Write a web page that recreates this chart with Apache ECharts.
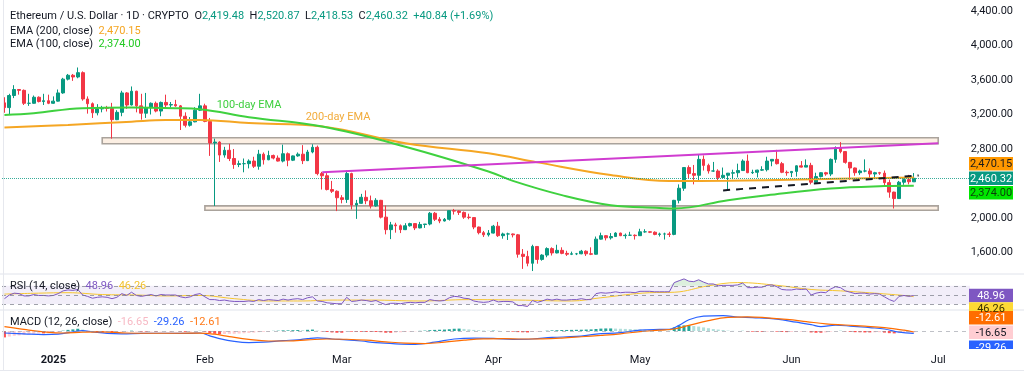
<!DOCTYPE html>
<html><head><meta charset="utf-8">
<script src="https://cdn.jsdelivr.net/npm/echarts@6/dist/echarts.min.js"></script>
<style>html,body{margin:0;padding:0;background:#fff}#c{width:1024px;height:373px}</style>
</head><body><div id="c"></div>
<script>
// ---------- DATA ----------
const startDate = '2024-12-22';
const dayCount = 198; // category slots up to 2025-07-07
const opens = [3335,3280,3420,3490,3480,3330,3330,3400,3350,3360,3330,3355,3450,3610,3655,3635,3685,3380,3325,3220,3265,3280,3270,3140,3225,3450,3310,3470,3300,3215,3280,3330,3240,3340,3310,3315,3300,3180,3075,3115,3250,3300,3120,2870,2880,2730,2785,2690,2620,2630,2630,2660,2600,2740,2675,2725,2695,2660,2745,2670,2720,2740,2665,2765,2820,2515,2490,2330,2310,2235,2215,2515,2150,2170,2240,2200,2140,2205,2010,1865,1920,1910,1865,1910,1935,1885,1925,1930,2055,1985,1965,1985,2085,2080,2065,2010,2005,1895,1830,1805,1825,1905,1795,1815,1815,1805,1580,1555,1475,1670,1520,1570,1645,1595,1625,1590,1580,1585,1585,1615,1585,1580,1755,1795,1770,1785,1825,1795,1800,1800,1795,1840,1840,1835,1810,1815,1815,1810,2205,2345,2585,2515,2495,2680,2610,2545,2545,2470,2495,2520,2525,2550,2660,2525,2530,2555,2560,2660,2680,2630,2530,2525,2540,2605,2590,2610,2415,2480,2525,2510,2680,2815,2770,2645,2580,2525,2545,2545,2510,2525,2520,2410,2300,2225,2415,2445,2419.48];
const highs = [3400,3440,3540,3495,3490,3440,3420,3410,3440,3430,3410,3490,3625,3670,3670,3745,3700,3410,3340,3320,3300,3300,3335,3250,3475,3460,3525,3475,3440,3450,3340,3350,3350,3430,3345,3370,3310,3225,3170,3285,3440,3325,3160,2920,2890,2825,2860,2800,2665,2690,2680,2710,2790,2760,2780,2735,2725,2850,2760,2725,2760,2845,2790,2855,2840,2535,2520,2430,2320,2265,2550,2525,2210,2280,2320,2260,2230,2210,2145,1955,1945,1925,1940,1945,1940,1955,1930,2070,2070,2010,2000,2085,2105,2090,2075,2050,2010,1900,1850,1860,1920,1955,1830,1830,1820,1815,1640,1620,1690,1670,1580,1660,1660,1690,1660,1620,1610,1595,1630,1625,1660,1785,1830,1800,1825,1835,1830,1820,1840,1810,1875,1870,1845,1845,1830,1830,1840,2210,2390,2590,2610,2615,2740,2725,2630,2650,2565,2585,2500,2560,2630,2680,2735,2560,2560,2600,2710,2680,2790,2650,2550,2545,2610,2660,2680,2640,2525,2530,2535,2690,2830,2880,2775,2650,2585,2560,2680,2575,2535,2535,2550,2445,2305,2430,2470,2500,2520.87];
const lows = [3220,3200,3390,3430,3310,3300,3325,3340,3310,3320,3325,3350,3440,3595,3590,3620,3360,3210,3160,3190,3225,3235,2920,3135,3180,3265,3305,3225,3140,3160,3200,3225,3180,3280,3280,3290,3020,3050,3060,3110,3240,3110,2720,2140,2650,2700,2660,2570,2590,2530,2575,2580,2560,2620,2670,2680,2655,2645,2600,2660,2710,2625,2660,2750,2495,2330,2320,2290,2080,2170,2175,2100,1990,2165,2160,2110,2130,1995,1810,1755,1830,1825,1860,1900,1860,1880,1885,1915,1965,1940,1960,1970,2040,2035,1990,1985,1870,1810,1780,1785,1820,1780,1760,1745,1775,1540,1410,1440,1385,1470,1505,1545,1565,1590,1580,1560,1570,1570,1580,1560,1570,1575,1750,1740,1750,1780,1790,1760,1795,1750,1795,1830,1825,1800,1785,1750,1780,1800,2170,2315,2460,2390,2420,2550,2515,2535,2440,2460,2330,2450,2470,2545,2520,2510,2470,2545,2540,2600,2620,2520,2490,2475,2480,2585,2590,2390,2410,2470,2490,2485,2640,2750,2630,2440,2490,2500,2530,2460,2460,2500,2380,2235,2110,2225,2385,2390,2418.53];
const closes = [3280,3420,3490,3480,3330,3330,3400,3350,3360,3330,3355,3450,3610,3655,3635,3685,3380,3325,3220,3265,3280,3270,3140,3225,3450,3310,3470,3300,3215,3280,3330,3240,3340,3310,3315,3300,3180,3075,3115,3250,3300,3120,2870,2880,2730,2785,2690,2620,2630,2630,2660,2600,2740,2675,2725,2695,2660,2745,2670,2720,2740,2665,2765,2820,2515,2490,2330,2310,2235,2215,2515,2150,2170,2240,2200,2140,2205,2010,1865,1920,1910,1865,1910,1935,1885,1925,1930,2055,1985,1965,1985,2085,2080,2065,2010,2005,1895,1830,1805,1825,1905,1795,1815,1815,1805,1580,1555,1475,1670,1520,1570,1645,1595,1625,1590,1580,1585,1585,1615,1585,1580,1755,1795,1770,1785,1825,1795,1800,1800,1795,1840,1840,1835,1810,1815,1815,1810,2205,2345,2585,2515,2495,2680,2610,2545,2545,2470,2495,2520,2525,2550,2660,2525,2530,2555,2560,2660,2680,2630,2530,2525,2540,2605,2590,2610,2415,2480,2525,2510,2680,2815,2770,2645,2580,2525,2545,2545,2510,2525,2520,2410,2300,2225,2415,2445,2420,2460.32];
// EMA lines read at sample days: [dayIndex, value]
const ema200 = [[0,3048],[13,3079],[26,3117],[33,3135],[40,3137],[50,3100],[65,3060],[82,2866],[99,2750],[109,2645],[124,2498],[136,2428],[148,2432],[163,2447],[186,2470.15]];
const ema100 = [[0,3195],[6,3215],[16,3273],[26,3280],[35,3273],[40,3262],[50,3169],[65,3060],[82,2827],[99,2540],[104,2430],[114,2265],[124,2149],[134,2117],[137,2110],[148,2207],[156,2265],[169,2343],[180,2370],[186,2374]];
// RSI(14) daily
const rsi = [42,50,54,53,48,48,51,49,49,48,49,53,59,61,60,62,50,47,43,45,46,45,42,45,53,49,56,49,47,49,51,48,51,50,50,50,46,44,46,51,53,46,40,40,38,39,37,36,36,36,37,36,40,38,40,39,38,41,39,41,42,40,44,46,37,36,33,32,31,31,45,36,37,39,38,36,38,33,29,32,32,31,33,34,33,34,34,40,38,37,38,44,47,46,43,42,37,35,34,35,39,35,36,36,35,27,27,25,38,34,37,41,39,41,39,39,40,40,42,40,40,53,55,54,55,57,55,56,56,55,58,58,58,57,57,57,57,77,81,85,80,79,83,78,74,74,70,71,71,71,72,76,66,66,67,67,71,72,68,62,61,61,63,62,63,50,54,56,55,63,68,66,59,56,53,54,54,52,53,52,46,40,36,47,49,47,48.96];
const rsiMa = [[0,52],[7,54],[13,55],[20,51],[27,50],[33,48],[40,49],[47,42],[54,37],[61,37],[67,39],[75,39],[85,37],[95,40],[105,39],[116,37],[122,44],[132,55],[137,56],[144,70],[150,77],[158,71],[165,62],[171,59],[178,54],[185,48],[186,46.26]];
// MACD(12,26) line, signal and daily histogram
const macdLine = [[0,-25],[4,-35],[8,-45],[11,-40],[14,-10],[16,5],[18,-10],[21,-30],[24,-35],[28,-30],[33,-28],[38,-30],[40,-25],[42,-60],[44,-95],[47,-130],[50,-145],[53,-140],[57,-120],[60,-110],[62,-95],[64,-85],[67,-100],[70,-110],[73,-125],[76,-146],[80,-160],[84,-166],[88,-140],[92,-100],[96,-88],[100,-92],[104,-104],[108,-100],[112,-80],[117,-68],[121,-40],[126,-20],[130,10],[134,20],[136,22],[138,70],[140,140],[143,185],[147,192],[150,175],[153,168],[158,148],[162,110],[165,80],[167,55],[170,72],[173,62],[177,42],[180,25],[183,-15],[186,-29.26]];
const signalLine = [[0,55],[4,20],[8,-10],[12,-25],[16,-15],[20,-10],[25,-25],[30,-28],[36,-28],[40,-26],[43,-40],[46,-70],[50,-105],[54,-125],[58,-125],[62,-112],[66,-100],[70,-103],[74,-115],[78,-135],[82,-152],[86,-157],[90,-140],[94,-115],[98,-98],[102,-95],[106,-100],[110,-98],[114,-88],[118,-72],[122,-55],[126,-35],[130,-8],[134,10],[137,25],[140,70],[144,130],[148,170],[152,177],[156,165],[160,145],[164,118],[168,90],[172,75],[176,60],[180,42],[184,10],[186,-12.61]];
const hist = [-80,-70,-60,-55,-50,-40,-35,-30,-30,-28,-22,-12,4,14,20,28,18,-6,-15,-20,-22,-20,-24,-18,-8,-6,4,-2,-8,-8,-6,-8,-5,-4,-4,-3,-6,-10,-8,-2,2,-8,-25,-35,-40,-38,-36,-35,-32,-28,-25,-20,-14,-10,-6,2,4,8,8,10,12,10,15,18,5,-5,-12,-18,-22,-22,-5,-8,-10,-10,-12,-12,-12,-15,-22,-22,-20,-16,-12,-8,-4,2,5,10,14,16,18,22,28,30,26,20,14,10,6,4,5,3,0,-4,-8,-14,-16,-18,-10,-6,-2,4,8,10,12,13,14,15,16,18,20,25,30,32,32,30,28,26,24,22,20,16,12,10,8,7,6,45,65,70,70,62,55,45,35,25,18,12,5,2,0,2,-5,-8,-10,-10,-8,-7,-8,-12,-14,-12,-10,-8,-6,-18,-22,-22,-18,-8,-2,2,-4,-10,-15,-16,-18,-18,-16,-15,-20,-27,-30,-26,-20,-18,-16.65];
// annotations
const upperBox = [['2025-01-11', 2930], ['2025-07-01', 2860]];
const lowerBox = [['2025-02-01', 2140], ['2025-07-01', 2090]];
const risingLine = [['2025-02-25', 2530], ['2025-07-01', 2866]];
const supportLine = [['2025-05-18', 2320], ['2025-06-27', 2493]];
const lastPrice = 2460.32, ema200Last = 2470.15, ema100Last = 2374.00;
const rsiLast = 48.96, rsiMaLast = 46.26;
const histLast = -16.65, macdLast = -29.26, signalLast = -12.61;
const priceTicks = [1600, 2000, 2800, 3200, 3600, 4000, 4400];
const monthNames = ['Jan','Feb','Mar','Apr','May','Jun','Jul','Aug','Sep','Oct','Nov','Dec'];

// ---------- BUILD ----------
const dates = [];
{ const s = new Date(startDate + 'T00:00:00Z');
  for (let i = 0; i < dayCount; i++) { const d = new Date(s.getTime() + i * 86400000); dates.push(d.toISOString().slice(0, 10)); } }
const candleData = opens.map((o, i) => [o, closes[i], lows[i], highs[i]]);
const pairs = arr => arr.map(([i, v]) => [dates[i], v]);
const FONT = 'Roboto, "Noto Sans", sans-serif';
const UP = '#089981', DOWN = '#f23645';

const chart = echarts.init(document.getElementById('c'), null, { renderer: 'canvas' });
const gridL = 2, gridR = 54;
const option = {
  animation: false,
  backgroundColor: '#ffffff',
  grid: [
    { left: gridL, right: gridR, top: 0, height: 274 },
    { left: gridL, right: gridR, top: 274, height: 36 },
    { left: gridL, right: gridR, top: 310, height: 39 }
  ],
  xAxis: [0, 1, 2].map(g => ({
    type: 'category', gridIndex: g, data: dates, boundaryGap: true,
    axisLine: { show: false }, axisTick: { show: false }, splitLine: { show: false },
    axisLabel: g === 2 ? {
      show: true, margin: 6, fontSize: 11, color: '#131722', fontFamily: FONT,
      interval: (idx, val) => val.slice(8) === '01',
      formatter: val => {
        const m = +val.slice(5, 7), d = val.slice(8);
        if (d !== '01') return '';
        return m === 1 ? '{b|' + val.slice(0, 4) + '}' : monthNames[m - 1];
      },
      rich: { b: { fontWeight: 'bold', fontSize: 11, color: '#131722', fontFamily: FONT } }
    } : { show: false }
  })),
  yAxis: [
    { type: 'value', gridIndex: 0, position: 'right', min: 1350.7, max: 4527.5, show: false },
    { type: 'value', gridIndex: 1, min: 17.4, max: 95.65, show: false },
    { type: 'value', gridIndex: 2, min: -225, max: 262.5, show: false }
  ],
  series: [
    { type: 'candlestick', xAxisIndex: 0, yAxisIndex: 0, data: candleData, barWidth: '68%',
      itemStyle: { color: UP, color0: DOWN, borderColor: UP, borderColor0: DOWN, borderWidth: 1 },
      markLine: { silent: true, symbol: 'none', label: { show: false },
        data: [{ yAxis: lastPrice, lineStyle: { type: 'dotted', color: '#089981', width: 1, opacity: 0.8 } }] },
      markArea: { silent: true,
        itemStyle: { color: 'rgba(250,226,204,0.55)', borderColor: '#aaa39c', borderWidth: 1.6 },
        data: [
          [{ xAxis: upperBox[0][0], yAxis: upperBox[0][1] }, { xAxis: upperBox[1][0], yAxis: upperBox[1][1] }],
          [{ xAxis: lowerBox[0][0], yAxis: lowerBox[0][1] }, { xAxis: lowerBox[1][0], yAxis: lowerBox[1][1] }]
        ] } },
    { type: 'line', xAxisIndex: 0, yAxisIndex: 0, data: pairs(ema200), smooth: 0.4, symbol: 'none',
      lineStyle: { color: '#f5a623', width: 2 }, z: 3 },
    { type: 'line', xAxisIndex: 0, yAxisIndex: 0, data: pairs(ema100), smooth: 0.4, symbol: 'none',
      lineStyle: { color: '#3fd13f', width: 2 }, z: 3 },
    { type: 'line', xAxisIndex: 0, yAxisIndex: 0, data: [], symbol: 'none',
      markLine: { silent: true, symbol: 'none', label: { show: false },
        data: [
          [{ coord: risingLine[0], lineStyle: { color: '#d03cd0', width: 2, type: 'solid' } }, { coord: risingLine[1] }],
          [{ coord: supportLine[0], lineStyle: { color: '#131722', width: 2, type: [7, 6] } }, { coord: supportLine[1] }]
        ] } },
    { type: 'line', xAxisIndex: 1, yAxisIndex: 1, data: rsi, symbol: 'none',
      lineStyle: { color: '#7e57c2', width: 1 }, z: 4,
      markArea: { silent: true, itemStyle: { color: 'rgba(126,87,194,0.1)' },
        data: [[{ yAxis: 70 }, { yAxis: 30 }]] },
      markLine: { silent: true, symbol: 'none', label: { show: false },
        lineStyle: { color: '#787b86', type: [4, 4], width: 1, opacity: 0.7 },
        data: [{ yAxis: 70 }, { yAxis: 50 }, { yAxis: 30 }] } },
    // overbought / oversold fills (same RSI values, clipped at the bands)
    { type: 'line', xAxisIndex: 1, yAxisIndex: 1, data: rsi.map(v => Math.max(v, 70)), symbol: 'none',
      lineStyle: { width: 0, opacity: 0 }, areaStyle: { origin: 70, color: 'rgba(76,175,80,0.28)' }, z: 2 },
    { type: 'line', xAxisIndex: 1, yAxisIndex: 1, data: rsi.map(v => Math.min(v, 30)), symbol: 'none',
      lineStyle: { width: 0, opacity: 0 }, areaStyle: { origin: 30, color: 'rgba(242,54,69,0.22)' }, z: 2 },
    { type: 'line', xAxisIndex: 1, yAxisIndex: 1, data: pairs(rsiMa), smooth: 0.4, symbol: 'none',
      lineStyle: { color: '#f7c62f', width: 1 }, z: 3 },
    { type: 'bar', xAxisIndex: 2, yAxisIndex: 2, data: hist, barWidth: '62%',
      itemStyle: { color: p => {
        const v = p.value, prev = p.dataIndex > 0 ? hist[p.dataIndex - 1] : v;
        if (v >= 0) return v >= prev ? '#26a69a' : '#b2dfdb';
        return v <= prev ? '#ff5252' : '#ffcdd2';
      } },
      markLine: { silent: true, symbol: 'none', label: { show: false },
        lineStyle: { color: '#9598a1', type: [4, 4], width: 1, opacity: 0.6 },
        data: [{ yAxis: 0 }] } },
    { type: 'line', xAxisIndex: 2, yAxisIndex: 2, data: pairs(macdLine), smooth: 0.4, symbol: 'none',
      lineStyle: { color: '#2962ff', width: 1.2 }, z: 4 },
    { type: 'line', xAxisIndex: 2, yAxisIndex: 2, data: pairs(signalLine), smooth: 0.4, symbol: 'none',
      lineStyle: { color: '#ff6d00', width: 1.2 }, z: 4 }
  ]
};
chart.setOption(option);

// ---------- overlay texts and price tags ----------
const fmt = v => v.toLocaleString('en-US', { minimumFractionDigits: 2, maximumFractionDigits: 2 });
const g = [];
const TX = 969, TW = 44, TH = 13.5;
function tag(yTop, bg, fg, txt) {
  g.push({ type: 'rect', shape: { x: TX, y: yTop, width: TW, height: TH }, style: { fill: bg }, z: 100 });
  g.push({ type: 'text', x: TX + TW / 2, y: yTop + TH / 2 + 0.5, z: 101,
    style: { text: txt, fill: fg, font: '11px ' + FONT, textAlign: 'center', textVerticalAlign: 'middle' } });
}
// price scale labels
priceTicks.forEach(v => {
  const y = chart.convertToPixel({ yAxisIndex: 0 }, v);
  g.push({ type: 'text', x: 1013, y: y, z: 40,
    style: { text: fmt(v), fill: '#131722', font: '11px ' + FONT, textAlign: 'right', textVerticalAlign: 'middle' } });
});
// separators & frame
[274, 310].forEach(y => g.push({ type: 'line', shape: { x1: 0, y1: y, x2: 1024, y2: y }, style: { stroke: '#e0e3eb', lineWidth: 1 }, z: 50 }));
g.push({ type: 'line', shape: { x1: 3.5, y1: 0, x2: 3.5, y2: 370 }, style: { stroke: '#e6e8ee', lineWidth: 1 }, z: 50 });
g.push({ type: 'line', shape: { x1: 0, y1: 370.5, x2: 1024, y2: 370.5 }, style: { stroke: '#e6e8ee', lineWidth: 1 }, z: 50 });

// main tags
const yP = chart.convertToPixel({ yAxisIndex: 0 }, lastPrice);
tag(yP - TH / 2, '#089981', '#ffffff', fmt(lastPrice));
tag(yP - TH / 2 - TH - 1, '#ff9800', '#1a1a1a', fmt(ema200Last));
tag(yP + TH / 2 + 1, '#00e600', '#0b3d0b', fmt(ema100Last));
// RSI tags
const yR = chart.convertToPixel({ yAxisIndex: 1 }, rsiLast);
tag(yR - TH / 2, '#7e57c2', '#ffffff', rsiLast.toFixed(2));
tag(yR + TH / 2, '#fdd835', '#3a3000', rsiMaLast.toFixed(2));
// MACD tags
const yH = chart.convertToPixel({ yAxisIndex: 2 }, histLast);
tag(yH - TH / 2 - TH - 1, '#ff6d00', '#ffffff', signalLast.toFixed(2));
tag(yH - TH / 2, '#ffcdd2', '#131722', histLast.toFixed(2));
tag(yH + TH / 2 + 1.5, '#2962ff', '#ffffff', macdLast.toFixed(2));
g.push({ type: 'rect', shape: { x: 960, y: 349, width: 64, height: 8 }, style: { fill: '#ffffff' }, z: 102 });

// EMA labels on chart (anchored in data space)
const p100 = chart.convertToPixel({ xAxisIndex: 0, yAxisIndex: 0 }, ['2025-02-03', 3310]);
const p200 = chart.convertToPixel({ xAxisIndex: 0, yAxisIndex: 0 }, ['2025-02-21', 3172]);
g.push({ type: 'text', x: p100[0] + 2, y: p100[1], z: 60, style: { text: '100-day EMA', fill: '#3fcf3f', font: '11px ' + FONT, textVerticalAlign: 'middle' } });
g.push({ type: 'text', x: p200[0] + 3, y: p200[1], z: 60, style: { text: '200-day EMA', fill: '#f2ac3c', font: '11px ' + FONT, textVerticalAlign: 'middle' } });

// header legend
const rich = {
  d: { fill: '#131722', font: '11px ' + FONT },
  v: { fill: '#089981', font: '11px ' + FONT },
  o: { fill: '#f5a623', font: '11px ' + FONT },
  gr: { fill: '#22c922', font: '11px ' + FONT },
  p: { fill: '#7e57c2', font: '11px ' + FONT },
  y: { fill: '#f2c230', font: '11px ' + FONT },
  pk: { fill: '#f7b9c4', font: '11px ' + FONT },
  b: { fill: '#2962ff', font: '11px ' + FONT },
  or: { fill: '#ff7a1a', font: '11px ' + FONT }
};
function richText(x, y, txt) {
  g.push({ type: 'text', x: x, y: y, z: 60, style: { text: txt, rich: rich, textVerticalAlign: 'middle', fill: '#131722', font: '11px ' + FONT } });
}
richText(10, 16.5, '{d|Ethereum / U.S. Dollar · 1D · CRYPTO  O}{v|' + fmt(opens[186]) + '}{d|  H}{v|' + fmt(highs[186]) + '}{d|  L}{v|' + fmt(lows[186]) + '}{d|  C}{v|' + fmt(closes[186]) + '}{v|  +40.84 (+1.69%)}');
richText(10, 31, '{d|EMA (200, close)  }{o|' + fmt(ema200Last) + '}');
richText(10, 44.5, '{d|EMA (100, close)  }{gr|' + fmt(ema100Last) + '}');
richText(10, 286, '{d|RSI (14, close)  }{p|' + rsiLast.toFixed(2) + '}{d|  }{y|' + rsiMaLast.toFixed(2) + '}');
richText(10, 322.5, '{d|MACD (12, 26, close)  }{pk|' + histLast.toFixed(2) + '}{d|  }{b|' + macdLast.toFixed(2) + '}{d|  }{or|' + signalLast.toFixed(2) + '}');

chart.setOption({ graphic: g });
</script></body></html>
